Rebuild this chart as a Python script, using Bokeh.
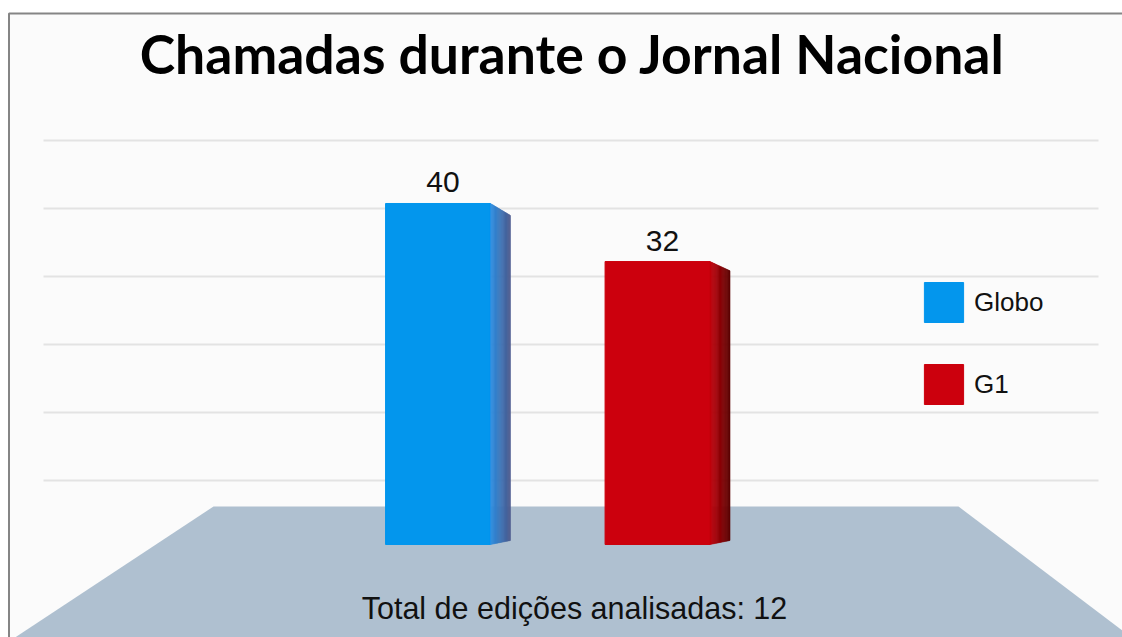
import numpy as np
from bokeh.plotting import figure
from bokeh.models import Range1d, ColumnDataSource, Legend, LegendItem
from bokeh.core.properties import value
from bokeh.embed import file_html
from bokeh.resources import INLINE

# ---------------- data ----------------
TITLE = "Chamadas durante o Jornal Nacional"
FOOTNOTE = "Total de edições analisadas: 12"
categories = ["Globo", "G1"]
counts = [40, 32]
colors = ["#0396ed", "#cc000d"]
side_light = ["#2a8fe4", "#c4000c"]
side_dark = ["#4c5a8c", "#5a0000"]
wall_ticks = [0, 10, 20, 30, 40, 50]

# ---------------- layout / style ----------------
W, H = 1122, 637
X0, X1 = -1.993, 3.118
Y0, Y1 = -19.82, 67.98
BASE = -7.0          # bars stand in front of the back wall
BAR_W = 0.478
DEPTH = 0.091        # side-face depth in x units
KY = H / (Y1 - Y0)   # px per value unit

def page_y(v):
    return (Y1 - v) * KY

def drop(v):
    # perspective: vertical shift (in value units) of the far edge of a side face
    return (21.5 - 0.0469 * page_y(v)) / KY

p = figure(width=W, height=H, output_backend="svg", toolbar_location=None,
           x_range=Range1d(X0, X1), y_range=Range1d(Y0, Y1),
           x_axis_location=None, y_axis_location=None, min_border=0)
p.grid.visible = False
p.outline_line_color = None
p.background_fill_color = "white"
p.border_fill_color = "white"
p.extra_x_ranges = {"px": Range1d(0, W)}
p.extra_y_ranges = {"py": Range1d(H, 0), "wall": Range1d(-23.09, 70.59)}

PX = dict(x_range_name="px", y_range_name="py")

# panel + border
p.quad(left=[9], right=[W], top=[13], bottom=[H], fill_color="#fbfbfb",
       line_color=None, **PX)
p.line(x=[8.5, 8.5, W], y=[H, 13, 13], line_color="#858585", line_width=2, **PX)

# back-wall gridlines
p.segment(x0=[43] * len(wall_ticks), x1=[1098] * len(wall_ticks), y0=wall_ticks, y1=wall_ticks,
          x_range_name="px", y_range_name="wall", line_color="#e3e3e3", line_width=2)

# floor
p.patch(x=[213, 958, 1135, 10], y=[506, 506, 640, 640], fill_color="#afc0d0",
        line_color=None, **PX)

# bars (front faces)
idx = np.arange(len(categories))
src = ColumnDataSource(dict(x=idx, top=counts, cat=categories, color=colors,
                            label=[str(c) for c in counts]))
bars = p.vbar(x="x", top="top", bottom=BASE, width=BAR_W, fill_color="color",
              line_color="color", source=src)

# bar side faces with gradient strips
N = 18
xs, ys, cs = [], [], []
for i, (xc, t) in enumerate(zip(idx, counts)):
    xr = xc + BAR_W / 2
    dt, db = drop(t), drop(BASE)
    c0 = np.array([int(side_light[i][k:k + 2], 16) for k in (1, 3, 5)])
    c1 = np.array([int(side_dark[i][k:k + 2], 16) for k in (1, 3, 5)])
    for j in range(N):
        f0, f1 = j / N, (j + 1) / N
        xs.append([xr + f0 * DEPTH, xr + f1 * DEPTH, xr + f1 * DEPTH, xr + f0 * DEPTH])
        ys.append([t - f0 * dt, t - f1 * dt, BASE - f1 * db, BASE - f0 * db])
        c = c0 + (c1 - c0) * ((f0 + f1) / 2)
        cs.append("#%02x%02x%02x" % tuple(int(round(v)) for v in c))
p.patches(xs=xs, ys=ys, fill_color=cs, line_color=cs, line_width=0.6)

# value labels
p.text(x="x", y="top", text="label", source=src, text_align="center",
       text_baseline="alphabetic", x_offset=5, y_offset=-21,
       text_font=value("Liberation Sans"), text_font_size="30px", text_color="#111111")

# title and footnote
p.text(x=[572], y=[52.6], text=[TITLE], text_align="center", text_baseline="alphabetic",
       text_font=value("Lato"), text_font_style="bold", text_font_size="53.5px",
       text_color="#000000", **PX)
p.text(x=[574], y=[607.4], text=[FOOTNOTE], text_align="center", text_baseline="alphabetic",
       text_font=value("Liberation Sans"), text_font_size="30.5px", text_color="#111111", **PX)

# legend
legend = Legend(items=[LegendItem(label=c, renderers=[bars], index=i)
                       for i, c in enumerate(categories)],
                location=(919, 228), orientation="vertical",
                glyph_width=49, glyph_height=50, spacing=32, padding=0, margin=0,
                label_standoff=6, border_line_color=None, background_fill_alpha=0,
                label_text_font="Liberation Sans", label_text_font_size="26px",
                label_text_color="#111111")
p.add_layout(legend, "center")

open("out.html", "w").write(file_html(p, INLINE))
